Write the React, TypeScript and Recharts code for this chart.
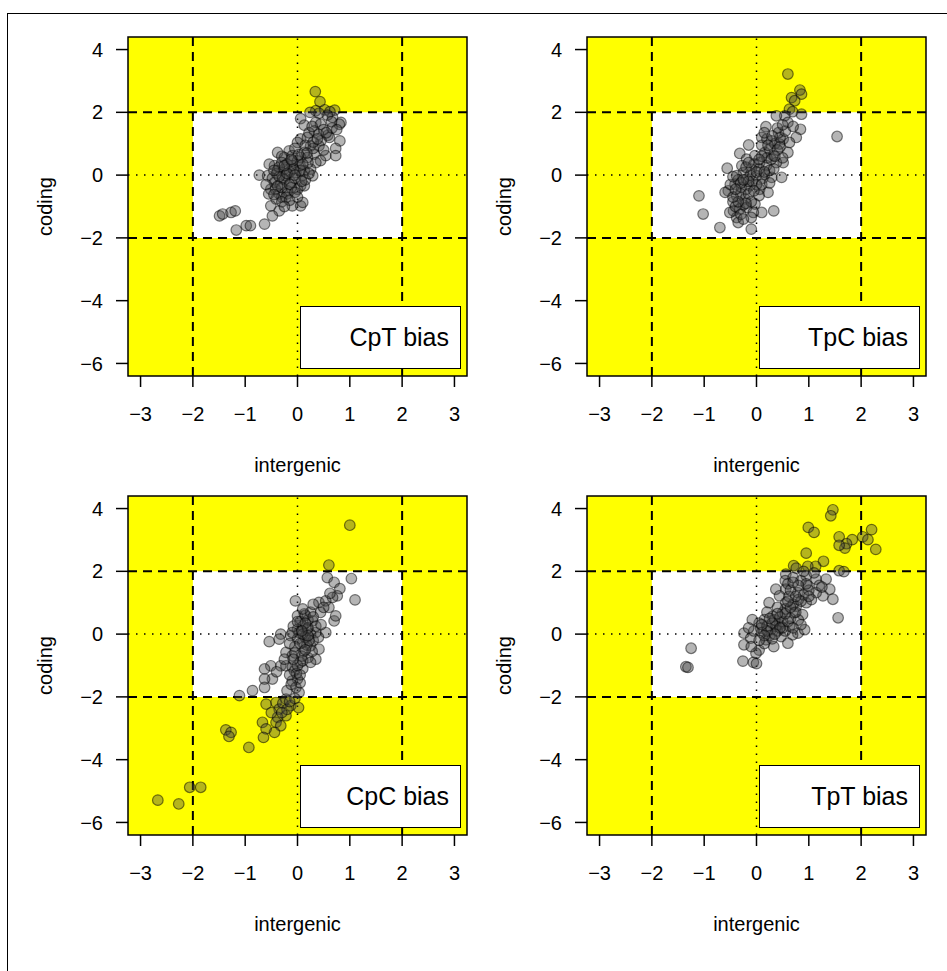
import {
  ScatterChart,
  Scatter,
  XAxis,
  YAxis,
  CartesianGrid,
  ReferenceArea,
  ReferenceLine,
} from 'recharts';

type Pt = [number, number];

const panelTitles = ['CpT bias', 'TpC bias', 'CpC bias', 'TpT bias'];
const xTicks = [-3, -2, -1, 0, 1, 2, 3];
const yTicks = [-6, -4, -2, 0, 2, 4];
const xDomain: [number, number] = [-3.24, 3.24];
const yDomain: [number, number] = [-6.4, 4.4];
const xLabel = 'intergenic';
const yLabel = 'coding';

// [intergenic, coding]
const cptPoints: Pt[] = [
  [0.34, 2.66], [0.43, 2.34], [0.35, 2.05], [0.52, 2.08], [0.71, 2.07], [0.62, 2.02],
  [0.83, 1.68], [0.8, 1.62], [0.67, 1.84], [0.57, 1.91], [0.41, 1.97], [0.24, 2.0],
  [0.06, 1.8], [0.13, 1.59], [0.35, 1.68], [0.44, 1.62], [0.32, 1.41], [0.58, 1.27],
  [0.61, 1.2], [0.81, 1.09], [0.73, 0.85], [0.73, 0.62], [0.54, 0.62], [0.5, 1.45],
  [0.66, 1.5], [0.45, 1.1], [0.4, 1.3], [0.22, 1.35], [0.28, 1.55],
  [0.06, 1.15], [0.19, 1.2], [0.0, 1.04], [0.25, 0.93], [0.41, 0.93], [0.13, 0.72],
  [0.32, 0.67], [-0.16, 0.77], [-0.38, 0.72], [-0.25, 0.56], [-0.1, 0.62], [0.06, 0.56],
  [0.19, 0.56], [0.44, 0.46], [-0.05, 0.85], [0.15, 0.95], [0.3, 0.85], [-0.3, 0.6], [0.35, 0.4],
  [-0.73, 0.0], [-0.57, -0.02], [-0.44, 0.3], [-0.54, 0.35], [-0.38, 0.14], [-0.25, 0.19],
  [-0.1, 0.3], [-0.03, 0.08], [0.13, 0.14], [0.25, 0.19], [0.29, -0.02], [-0.22, -0.02],
  [-0.44, -0.23], [-0.32, -0.29], [-0.13, -0.23], [0.06, -0.34], [-0.51, -0.45], [-0.35, -0.6],
  [-0.19, -0.5], [0.0, -0.45], [0.13, -0.34], [-0.4, 0.05], [-0.3, 0.4], [-0.15, 0.1],
  [0.05, 0.3], [0.2, 0.4], [-0.05, -0.1], [0.1, 0.0], [-0.28, -0.1], [-0.48, -0.1],
  [-0.2, 0.35], [0.0, 0.45], [-0.12, -0.4], [-0.25, -0.15], [-0.35, 0.25], [0.15, -0.15],
  [-0.6, -0.3], [-0.42, -0.45], [0.05, 0.15], [-0.08, 0.2],
  [-0.35, -0.05], [-0.2, 0.05], [-0.05, 0.0], [0.08, -0.2], [-0.3, -0.4], [-0.15, -0.3],
  [-0.45, 0.15], [-0.25, 0.3], [-0.1, 0.45], [0.1, 0.35], [0.22, 0.05], [-0.38, -0.35],
  [-0.2, -0.6], [-0.05, -0.55], [0.18, 0.7], [0.3, 1.05], [0.38, 1.15], [0.55, 1.35],
  [0.65, 1.7], [0.75, 1.45], [0.5, 0.8], [-0.55, -0.6], [-0.3, -0.7], [0.02, 0.65], [-0.12, 0.5],
  [-0.41, -0.76], [-0.22, -0.71], [-0.51, -0.98], [-0.35, -1.14], [-0.1, -0.98], [0.06, -0.98],
  [0.1, -0.87], [-0.48, -1.3], [-0.3, -0.85], [-0.15, -0.8], [-0.45, -0.62], [0.0, -0.7], [-0.25, -1.0],
  [-1.49, -1.3], [-1.43, -1.24], [-1.27, -1.19], [-1.19, -1.14], [-0.98, -1.61], [-0.9, -1.61],
  [-1.17, -1.75], [-0.63, -1.56],
];

const tpcPoints: Pt[] = [
  [0.6, 3.22], [0.83, 2.71], [0.86, 2.58], [0.67, 2.47], [0.73, 2.37], [0.63, 2.1],
  [0.69, 2.02], [0.86, 1.94], [0.54, 1.89], [0.38, 1.89], [1.54, 1.23],
  [0.18, 1.54], [0.6, 1.68], [0.84, 1.46], [0.76, 1.2], [0.51, 1.15], [0.63, 1.04],
  [0.44, 0.99], [0.1, 1.2], [0.29, 1.09], [-0.15, 0.96], [-0.32, 0.69], [-0.56, 0.22],
  [0.6, 0.72], [0.51, 0.4], [0.48, -0.07], [0.33, -1.14], [-0.1, -1.72], [-0.7, -1.67],
  [-1.02, -1.24], [-1.1, -0.66],
  [-0.19, 0.51], [-0.03, 0.62], [0.16, 0.72], [0.25, 0.83], [0.32, 0.62], [0.06, 0.4],
  [0.19, 0.3], [0.38, 0.4], [-0.1, 0.19], [-0.25, 0.08], [0.0, -0.02], [0.16, 0.03],
  [0.29, -0.07], [-0.19, -0.13], [-0.38, -0.02], [-0.41, -0.29], [-0.29, -0.39], [-0.13, -0.34],
  [0.06, -0.45], [0.22, -0.55], [-0.54, -0.5], [-0.6, -0.55], [-0.38, -0.66], [-0.22, -0.76],
  [-0.03, -0.92], [-0.44, -1.14], [-0.32, -1.08], [-0.19, -1.03], [-0.38, -1.35], [-0.35, -1.51],
  [-0.51, -1.19], [0.1, -1.19], [-0.06, -1.19],
  [0.35, 1.0], [0.45, 1.2], [0.4, 0.8], [0.2, 0.55], [0.1, 0.6], [-0.05, 0.35], [0.05, 0.2],
  [0.12, -0.1], [-0.08, -0.2], [-0.2, -0.45], [-0.3, -0.6], [-0.15, -0.6], [-0.45, -0.85],
  [-0.25, -0.95], [-0.4, -1.0], [0.0, -0.3], [0.25, 0.15], [-0.28, 0.3], [0.1, 0.95],
  [0.2, 1.15], [0.42, 1.35], [0.55, 1.4], [0.33, 0.2], [-0.12, 0.0], [-0.5, -0.3],
  [-0.35, -0.15], [0.05, -0.65], [-0.1, -0.85], [-0.3, -1.25], [0.28, 0.5], [0.15, 1.35],
  [0.7, 1.55], [0.5, 0.55], [-0.45, -0.05], [-0.2, 0.25],
  [-0.15, -0.2], [-0.3, -0.25], [0.0, 0.1], [0.1, -0.3], [-0.2, -0.9], [-0.35, -0.85],
  [-0.45, -0.7], [-0.15, 0.4], [0.05, 0.5], [0.22, 0.95], [0.35, 0.6], [0.45, 0.9],
  [0.25, -0.25], [-0.05, -0.5], [-0.25, -0.15], [0.4, 1.5], [0.5, 1.6], [0.3, 1.25],
  [-0.4, -0.45], [-0.1, -1.35], [-0.25, -1.4], [0.15, 0.1],
];

const cpcPoints: Pt[] = [
  [1.0, 3.47], [0.6, 2.2], [0.57, 1.8], [0.7, 1.65], [0.81, 1.45], [0.76, 1.22], [0.67, 1.17],
  [1.03, 1.77], [1.1, 1.09], [-0.04, 1.06], [0.41, 1.01], [0.54, 1.06], [0.6, 0.85], [0.44, 0.69],
  [0.7, 0.42], [0.73, 0.58], [0.0, 0.58], [0.13, 0.64], [0.29, 0.42], [0.35, 0.05], [0.54, 0.05],
  [-0.32, 0.0], [-0.54, -0.24], [-0.35, -0.16], [-0.13, -0.05], [0.03, 0.05], [0.19, 0.16],
  [0.1, -0.27], [0.25, -0.37], [0.41, -0.48], [0.35, -0.8], [-0.22, -0.58], [-0.1, -0.69],
  [-0.32, -1.01], [-0.51, -1.01], [-0.63, -1.11], [-0.48, -1.43], [-0.63, -1.43], [-0.63, -1.7],
  [-0.06, -1.17], [0.0, -1.43], [-0.1, -1.49], [-0.03, -1.7], [0.03, -1.86], [-0.22, -1.01],
  [-0.86, -1.8], [-1.11, -1.96],
  [-0.6, -2.23], [-0.41, -2.18], [-0.22, -2.07], [-0.13, -2.28], [0.02, -2.34], [-0.35, -2.39],
  [-0.22, -2.6], [-0.38, -2.65], [-0.41, -2.81], [-0.32, -2.92], [-0.44, -3.13], [-0.67, -2.81],
  [-0.6, -3.02], [-0.65, -3.29], [-1.37, -3.05], [-1.27, -3.13], [-1.31, -3.26], [-0.93, -3.61],
  [-2.06, -4.88], [-1.85, -4.88], [-2.67, -5.29], [-2.27, -5.41],
  [0.05, 0.4], [0.2, 0.45], [0.1, 0.25], [0.25, 0.0], [0.15, -0.1], [0.0, -0.15], [-0.05, -0.4],
  [0.12, -0.55], [0.2, -0.75], [0.05, -0.9], [-0.1, -1.05], [0.1, -1.1], [-0.02, -1.25],
  [0.05, -1.55], [0.3, -0.2], [0.35, 0.25], [0.15, 0.6], [0.25, 0.7], [0.45, 0.3], [0.4, -0.1],
  [-0.15, -0.3], [-0.25, -0.8], [0.0, 0.15], [0.18, -0.35], [0.28, -0.55], [-0.08, 0.25],
  [0.08, -0.7], [0.5, 0.85], [0.62, 1.3], [-0.15, -1.3], [-0.4, -1.2], [0.1, 0.8], [0.3, 0.95],
  [-0.2, -1.8], [-0.05, -2.05], [-0.28, -2.2], [-0.5, -2.5], [-0.2, -2.4],
  [0.05, -0.3], [0.15, -0.5], [-0.05, -0.6], [0.1, 0.0], [0.2, 0.2], [-0.1, 0.05], [0.0, -1.0],
  [0.1, -0.85], [0.22, -0.2], [0.3, 0.55], [0.05, -1.3], [-0.08, -0.8], [0.0, 0.4], [0.15, 0.35],
  [-0.12, -1.6], [0.25, -0.9], [-0.3, -2.5], [-0.15, -2.15], [0.2, -0.05], [0.08, 0.1],
];

const tptPoints: Pt[] = [
  [1.46, 3.96], [1.42, 3.77], [0.99, 3.4], [1.1, 3.24], [1.58, 3.1], [1.83, 3.01], [2.03, 3.1],
  [2.2, 3.33], [2.13, 3.01], [2.28, 2.7], [1.72, 2.88], [1.69, 2.74], [1.58, 2.83], [0.95, 2.58],
  [1.28, 2.32], [1.13, 2.16], [0.98, 2.16], [0.71, 2.18], [0.76, 2.1], [1.58, 2.02], [1.67, 1.99],
  [0.56, 1.91], [0.55, 1.7], [0.56, 1.43], [0.95, 1.86], [1.14, 1.75], [1.33, 1.75], [1.4, 1.43],
  [1.46, 1.11], [1.56, 0.52], [1.27, 1.22], [1.14, 1.32], [0.98, 1.54], [0.79, 1.32], [0.37, 1.43],
  [0.44, 1.22], [0.24, 1.0], [0.56, 1.0], [0.76, 0.89], [0.95, 1.0], [0.72, 0.68], [0.88, 0.62],
  [0.5, 0.68], [0.31, 0.57], [0.15, 0.46], [0.05, 0.35], [-0.08, 0.46], [-0.24, 0.03],
  [-0.11, -0.13], [0.08, 0.19], [0.28, 0.14], [0.44, 0.3], [0.63, 0.25], [0.79, 0.03],
  [0.69, -0.02], [0.47, -0.08], [0.33, -0.4], [0.6, -0.29], [0.18, -0.18], [0.05, -0.51],
  [-0.01, -0.61], [-0.24, -0.34], [-0.26, -0.86], [-0.06, -0.9], [0.0, -0.94], [-1.25, -0.45],
  [-1.35, -1.04], [-1.31, -1.06], [0.92, 0.14], [0.37, 0.25],
  [0.6, 1.6], [0.7, 1.8], [0.85, 1.7], [0.62, 1.2], [0.8, 1.1], [0.9, 1.25], [1.05, 1.1],
  [0.7, 0.95], [0.55, 0.8], [0.4, 0.85], [0.65, 0.5], [0.8, 0.45], [0.5, 0.4], [0.35, 0.45],
  [0.2, 0.25], [0.1, 0.05], [0.25, -0.05], [0.4, 0.1], [0.55, 0.1], [0.15, -0.3], [0.3, -0.15],
  [-0.05, 0.1], [0.45, 0.55], [0.75, 0.7], [1.0, 1.4], [1.2, 1.55], [0.9, 2.0], [1.1, 1.95],
  [0.5, 0.2], [-0.15, 0.2], [0.65, 1.4], [0.85, 0.3], [0.2, 0.7],
  [0.3, 0.35], [0.45, 0.2], [0.6, 0.4], [0.7, 0.2], [0.2, 0.1], [0.35, 0.0], [0.55, 0.65],
  [0.65, 0.85], [0.85, 1.05], [0.75, 1.2], [0.6, 1.05], [1.0, 1.2], [0.95, 1.6], [0.8, 1.55],
  [0.1, 0.3], [0.25, 0.5], [0.4, 0.65], [0.15, -0.05], [-0.1, -0.4], [0.05, -0.2], [1.25, 1.5],
  [0.7, 1.65],
];

const panelPoints = [cptPoints, tpcPoints, cpcPoints, tptPoints];

const FONT = '"Liberation Sans", Arial, Helvetica, sans-serif';

function fmtTick(v: number) {
  return v < 0 ? '\u2212' + Math.abs(v) : String(v);
}

function Dot(props: any) {
  const { cx, cy } = props;
  if (cx == null || cy == null) return null;
  return (
    <circle
      cx={cx}
      cy={cy}
      r={5.3}
      fill="rgba(70,70,70,0.4)"
      stroke="rgba(0,0,0,0.5)"
      strokeWidth={1.2}
    />
  );
}

function Panel({ title, points, left, top }: { title: string; points: Pt[]; left: number; top: number }) {
  const data = points.map(([x, y]) => ({ x, y }));
  return (
    <div style={{ position: 'absolute', left, top, width: 470, height: 480 }}>
      <ScatterChart width={470} height={480} margin={{ top: 37, right: 3, bottom: 0, left: 0 }}>
        <CartesianGrid horizontal={false} vertical={false} fill="#ffff00" fillOpacity={1} />
        <XAxis
          type="number"
          dataKey="x"
          domain={xDomain}
          ticks={xTicks}
          interval={0}
          allowDataOverflow
          height={104}
          axisLine={false}
          tickSize={11}
          tickMargin={20}
          tickLine={{ stroke: '#000', strokeWidth: 1.5 }}
          tick={{ fill: '#000', fontSize: 20 }}
          tickFormatter={fmtTick}
          label={{ value: xLabel, position: 'insideBottom', offset: 8, fill: '#000', fontSize: 20 }}
        />
        <YAxis
          type="number"
          dataKey="y"
          domain={yDomain}
          ticks={yTicks}
          interval={0}
          allowDataOverflow
          width={128}
          axisLine={false}
          tickSize={12}
          tickMargin={13}
          tickLine={{ stroke: '#000', strokeWidth: 1.5 }}
          tick={{ fill: '#000', fontSize: 20 }}
          tickFormatter={fmtTick}
          label={{
            value: yLabel,
            angle: -90,
            position: 'insideLeft',
            offset: 45,
            fill: '#000',
            fontSize: 20,
            style: { textAnchor: 'middle' },
          }}
        />
        <ReferenceArea x1={-2} x2={2} y1={-2} y2={2} fill="#ffffff" fillOpacity={1} stroke="none" />
        <ReferenceLine x={-2} stroke="#000" strokeWidth={2} strokeDasharray="9 6" />
        <ReferenceLine x={2} stroke="#000" strokeWidth={2} strokeDasharray="9 6" />
        <ReferenceLine y={-2} stroke="#000" strokeWidth={2} strokeDasharray="9 6" />
        <ReferenceLine y={2} stroke="#000" strokeWidth={2} strokeDasharray="9 6" />
        <ReferenceLine x={0} stroke="#000" strokeWidth={1.5} strokeDasharray="1.5 6.5" />
        <ReferenceLine y={0} stroke="#000" strokeWidth={1.5} strokeDasharray="1.5 6.5" />
        <Scatter data={data} shape={Dot} isAnimationActive={false} />
        <ReferenceArea
          x1={xDomain[0]}
          x2={xDomain[1]}
          y1={yDomain[0]}
          y2={yDomain[1]}
          fill="none"
          stroke="#000"
          strokeWidth={1.5}
        />
      </ScatterChart>
      <div
        style={{
          position: 'absolute',
          left: 300,
          top: 306,
          width: 161,
          height: 63,
          boxSizing: 'border-box',
          border: '1.5px solid #000',
          background: '#fff',
          display: 'flex',
          alignItems: 'center',
          justifyContent: 'flex-end',
          paddingRight: 11,
          fontSize: 25,
          color: '#000',
        }}
      >
        {title}
      </div>
    </div>
  );
}

export default function App() {
  return (
    <div style={{ position: 'absolute', left: 0, top: 0, width: 947, height: 971, fontFamily: FONT, background: '#fff' }}>
      <div
        style={{
          position: 'absolute',
          left: 7,
          top: 13,
          width: 940,
          height: 958,
          boxSizing: 'border-box',
          borderTop: '1px solid #000',
          borderLeft: '1px solid #000',
        }}
      />
      {panelTitles.map((t, i) => (
        <Panel
          key={t}
          title={t}
          points={panelPoints[i]}
          left={(i % 2) * 459}
          top={Math.floor(i / 2) * 458.5}
        />
      ))}
    </div>
  );
}
